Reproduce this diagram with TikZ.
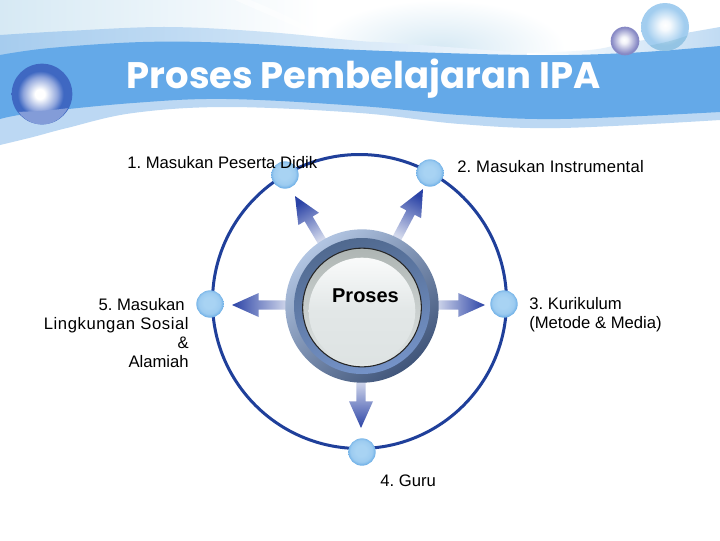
\documentclass[tikz,border=0pt]{standalone}
\usepackage{fontspec}
\setmainfont{Liberation Sans}
\newfontfamily\titlefont{Poppins}
\usetikzlibrary{calc}
\definecolor{bandblue}{HTML}{64A9E8}
\definecolor{bandlight}{HTML}{BCD8F3}
\definecolor{bandtop}{HTML}{A6CCEE}
\definecolor{washblue}{HTML}{D6E9F4}
\definecolor{ringblue}{HTML}{1F3F9A}
\definecolor{arrowdark}{HTML}{2B43A6}
\definecolor{arrowmid}{HTML}{3850AC}
\definecolor{arrowlight}{HTML}{D3D9EC}
\definecolor{ballmid}{HTML}{9CCBF0}
\definecolor{ballout}{HTML}{62A8E4}
\definecolor{ballcore}{HTML}{A8D3F3}
\definecolor{glowa}{HTML}{8FA5DC}
\definecolor{glowb}{HTML}{3F68C2}
\definecolor{glowc}{HTML}{A2CDEF}
\definecolor{glowd}{HTML}{8688C4}
\definecolor{hubA}{HTML}{B2C5E2}
\definecolor{hubB}{HTML}{40557A}
\definecolor{hubC}{HTML}{50698F}
\definecolor{hubD}{HTML}{7593C8}
\definecolor{hubE}{HTML}{AEB5B3}
\definecolor{hubF}{HTML}{E2E7E7}
\pgfdeclareradialshading{smallball}{\pgfpoint{-2bp}{3bp}}{
 color(0bp)=(ballcore); color(10bp)=(ballcore); color(20bp)=(ballmid); color(27bp)=(ballout); color(50bp)=(ballout)}
\pgfdeclareradialshading{bigglow}{\pgfpoint{-2bp}{0bp}}{
 color(0bp)=(white); color(4bp)=(white); color(14bp)=(glowa); color(19bp)=(glowb); color(50bp)=(glowb)}
\pgfdeclareradialshading{paleglow}{\pgfpoint{0bp}{2bp}}{
 color(0bp)=(white); color(5bp)=(white!90!glowc); color(20bp)=(glowc); color(50bp)=(glowc)}
\pgfdeclareradialshading{lilacglow}{\pgfpoint{-2bp}{2bp}}{
 color(0bp)=(white); color(6bp)=(white!90!glowd); color(23bp)=(glowd); color(50bp)=(glowd)}
\tikzset{
 lbl/.style={font=\fontsize{12.5}{14.25}\selectfont,inner sep=0pt,text=black},
 orbitball/.style={circle,minimum size=20.5pt,inner sep=0pt,shading=smallball},
 hublayer/.style={circle,inner sep=0pt},
 orb/.style={circle,inner sep=0pt},
}
% gradient block arrow from (#1) to (#2), math direction #3
\newcommand{\gradarrow}[3]{%
 \shade[shading=axis,bottom color=arrowlight,middle color=arrowmid,top color=arrowdark,shading angle=#3-90]
  ($(#1)!3.5pt!90:(#2)$) -- ($($(#2)!20pt!(#1)$)!3.5pt!-90:(#1)$) -- ($($(#2)!20pt!(#1)$)!9pt!-90:(#1)$)
  -- (#2) -- ($($(#2)!20pt!(#1)$)!9pt!90:(#1)$) -- ($($(#2)!20pt!(#1)$)!3.5pt!90:(#1)$) -- ($(#1)!3.5pt!-90:(#2)$) -- cycle;
}
\begin{document}
\frenchspacing
\begin{tikzpicture}[x=0.75pt,y=-0.75pt]
\useasboundingbox (0,0) rectangle (720,540);
\fill[white] (0,0) rectangle (720,540);
% header wash
\begin{scope}
\clip (0,0) rectangle (720,60);
\shade[left color=washblue,right color=white] (0,0) rectangle (320,60);
\shade[inner color=washblue,outer color=white] (440,48) ellipse[x radius=125,y radius=48];
\fill[white,opacity=.55] (250,0) .. controls (300,20) and (330,40) .. (372,60) -- (360,60) .. controls (330,40) and (280,20) .. (235,0) -- cycle;
\end{scope}
% light wave above the band
\shade[left color=bandtop,right color=bandtop!15!white]
  plot[smooth,tension=.6] coordinates {(0,35) (67,31) (167,27) (267,32) (360,41) (393,43) (527,53)}
  -- (527,70) -- (0,70) -- cycle;
\shade[left color=white,right color=bandtop!70!white]
  plot[smooth,tension=.6] coordinates {(527,53) (590,50) (627,43) (680,34) (720,27)}
  -- (720,70) -- (527,70) -- cycle;
% light wave below the band
\fill[bandlight] plot[smooth,tension=.6] coordinates {(0,110) (133,95) (227,90) (360,100) (460,108) (560,112) (720,105)}
  -- plot[smooth,tension=.6] coordinates {(720,120) (560,128) (460,124) (360,113) (227,107) (133,113) (67,128) (33,137) (0,145)} -- cycle;
% main band
\fill[bandblue] plot[smooth,tension=.6] coordinates {(0,55) (50,48) (143,42) (233,43) (360,50) (527,55) (627,53) (720,46)}
  -- plot[smooth,tension=.6] coordinates {(720,112) (560,119) (460,115) (360,106) (227,99) (133,103) (33,113) (0,119)} -- cycle;
% balls in header
\node[orb,minimum width=43.5pt,minimum height=45.5pt,shading=bigglow] (orbl) at (42,94) {};
\begin{scope}
\clip (42,94) ellipse[x radius=29,y radius=30.5];
\fill[glowa!85!glowb] (0,113) .. controls (25,111) and (50,112) .. (80,106) -- (80,130) -- (0,130) -- cycle;
\end{scope}
\node[orb,minimum size=36pt,shading=paleglow] (orbr) at (665,27) {};
\begin{scope}
\clip (665,27) circle[radius=24];
\fill[glowc!85!black!90!cyan,opacity=.35] (630,49) .. controls (660,44) and (680,40) .. (700,30) -- (700,60) -- (630,60) -- cycle;
\end{scope}
\node[orb,minimum size=21.5pt,shading=lilacglow] (orbs) at (625,41) {};
% title
\node[inner sep=0pt,anchor=base,text=white] (title) at (363.5,88) {\titlefont\bfseries\fontsize{27.7}{30}\selectfont Proses Pembelajaran IPA};
% orbit
\coordinate (orbitc) at (359.5,301.5);
\draw[ringblue,line width=2.25pt] (orbitc) circle[radius=147];
% balls
\node[orbitball] (b1) at (285,175) {};
\node[orbitball] (b2) at (430,173) {};
\node[orbitball] (b3) at (504,304) {};
\node[orbitball] (b4) at (362,452) {};
\node[orbitball] (b5) at (210,304) {};
% arrow ends
\coordinate (s1) at (323,243); \coordinate (t1) at (295,196);
\coordinate (s2) at (396,240); \coordinate (t2) at (423,189);
\coordinate (s3) at (436,305); \coordinate (t3) at (485,305);
\coordinate (s4) at (361,381); \coordinate (t4) at (361,428);
\coordinate (s5) at (288,305); \coordinate (t5) at (232,305);
\gradarrow{s1}{t1}{121}
\gradarrow{s2}{t2}{62}
\gradarrow{s3}{t3}{0}
\gradarrow{s4}{t4}{-90}
\gradarrow{s5}{t5}{180}
% hub
\node[hublayer,minimum size=115pt,shading=axis,top color=hubA,bottom color=hubB,shading angle=40] (hub) at (362,306) {};
\node[hublayer,minimum size=102pt,shading=axis,top color=hubC,bottom color=hubD,shading angle=15] (hub2) at (362,306) {};
\node[hublayer,minimum size=89pt,draw=black!85,line width=0.8pt,shading=axis,top color=hubE,bottom color=hubF] (hub3) at (362,307.5) {};
\node[hublayer,minimum size=80pt,shading=axis,top color=white!80!hubF,bottom color=hubF!92!hubE,middle color=hubF] (hubshine) at (362,311) {};
\node[lbl,font=\bfseries\fontsize{15}{16}\selectfont] (proses) at (365.5,296) {Proses};
% labels
\node[lbl,anchor=west] (l1) at (127,163) {1. Masukan Peserta Didik};
\node[lbl,anchor=west] (l2) at (457,167) {\addfontfeature{LetterSpace=1.2}2. Masukan Instrumental};
\node[lbl,anchor=west,align=left] (l3) at (529,314.5) {3. Kurikulum\\(Metode \& Media)};
\node[lbl,anchor=west] (l4) at (380,481) {4. Guru};
\node[lbl,anchor=east,align=right] (l5) at (189,333.5) {5. Masukan\hspace*{3pt}\\{\addfontfeature{LetterSpace=3.5}Lingkungan Sosial}\hspace*{1.5pt}\\\&\hspace*{3pt}\\Alamiah};
\end{tikzpicture}
\end{document}
